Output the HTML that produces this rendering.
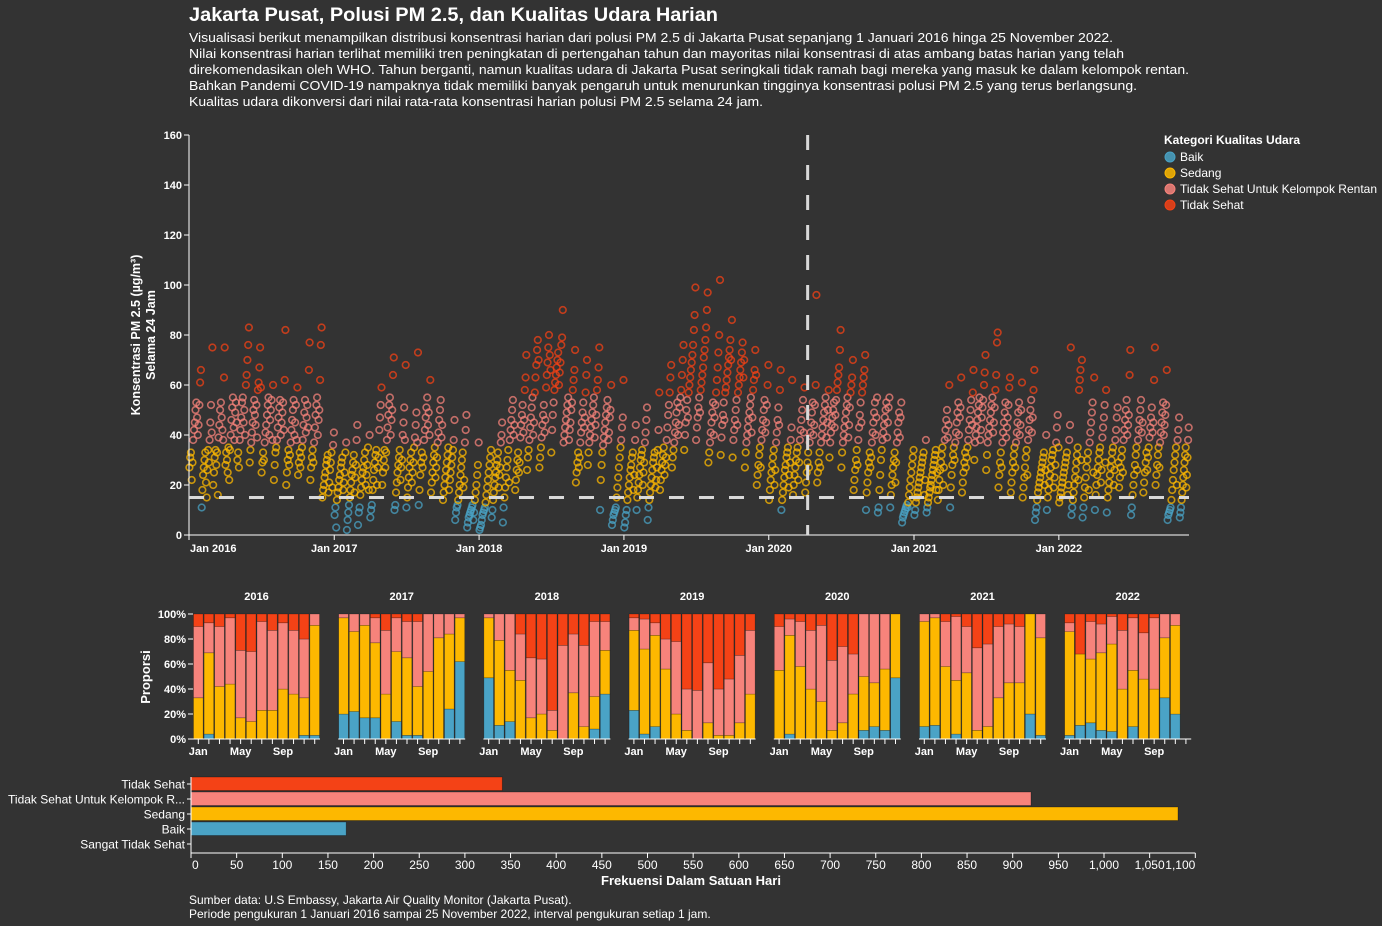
<!DOCTYPE html>
<html><head><meta charset="utf-8"><title>Jakarta Pusat PM 2.5</title>
<style>
html,body{margin:0;padding:0;background:#333333;}
svg{display:block;font-family:"Liberation Sans",Arial,sans-serif;}
.t{fill:#ffffff;}
.ax{stroke:#ffffff;stroke-width:1;}
</style></head>
<body>
<svg id="chart" width="1382" height="926" viewBox="0 0 1382 926">
<rect width="1382" height="926" fill="#333333"/>
<text class="t" x="189" y="21" font-size="19" font-weight="bold" textLength="529" lengthAdjust="spacingAndGlyphs">Jakarta Pusat, Polusi PM 2.5, dan Kualitas Udara Harian</text>
<g font-size="13" class="t">
<text class="t" x="189" y="42" textLength="924" lengthAdjust="spacingAndGlyphs">Visualisasi berikut menampilkan distribusi konsentrasi harian dari polusi PM 2.5 di Jakarta Pusat sepanjang 1 Januari 2016 hinga 25 November 2022.</text>
<text class="t" x="189" y="58" textLength="935" lengthAdjust="spacingAndGlyphs">Nilai konsentrasi harian terlihat memiliki tren peningkatan di pertengahan tahun dan mayoritas nilai konsentrasi di atas ambang batas harian yang telah</text>
<text class="t" x="189" y="74" textLength="1000" lengthAdjust="spacingAndGlyphs">direkomendasikan oleh WHO. Tahun berganti, namun kualitas udara di Jakarta Pusat seringkali tidak ramah bagi mereka yang masuk ke dalam kelompok rentan.</text>
<text class="t" x="189" y="90" textLength="948" lengthAdjust="spacingAndGlyphs">Bahkan Pandemi COVID-19 nampaknya tidak memiliki banyak pengaruh untuk menurunkan tingginya konsentrasi polusi PM 2.5 yang terus berlangsung.</text>
<text class="t" x="189" y="106" textLength="574" lengthAdjust="spacingAndGlyphs">Kualitas udara dikonversi dari nilai rata-rata konsentrasi harian polusi PM 2.5 selama 24 jam.</text>
</g>
<g id="scatter"></g>
<g id="legend"></g>
<g id="stacked"></g>
<g id="hist"></g>
<text class="t" x="189" y="904" font-size="12">Sumber data: U.S Embassy, Jakarta Air Quality Monitor (Jakarta Pusat).</text>
<text class="t" x="189" y="918" font-size="12">Periode pengukuran 1 Januari 2016 sampai 25 November 2022, interval pengukuran setiap 1 jam.</text>
</svg>
<script>
// ---------- DATA ----------
const categoryNames = ["Baik","Sedang","Tidak Sehat Untuk Kelompok Rentan","Tidak Sehat"];
const categoryColors = ["#4aa3c6","#fdb800","#f7837b","#f44216"];
const yTicks = [0,20,40,60,80,100,120,140,160];
const yearLabels = ["Jan 2016","Jan 2017","Jan 2018","Jan 2019","Jan 2020","Jan 2021","Jan 2022"];
const whoThreshold = 15;
const covidDate = "2020-04-08";
// daily PM2.5 samples per month (Jan 2016 .. Nov 2022)
const monthlySamples = [
"27,31,33,22,29,38,42,45,50,53,47,40,44,52,61,66","11,18,24,27,30,33,21,15,26,34,29,38,45,52,41,75","20,25,31,34,28,33,16,39,44,50,53,47,42,38,63,75","28,33,30,25,35,22,34,40,46,51,55,43,38,49,53,45","30,33,27,38,42,47,53,55,45,50,40,60,64,70,76,83","29,34,37,41,45,50,54,48,44,52,39,58,61,67,75,59","25,29,33,30,37,41,44,48,52,55,40,46,50,54,38,60","22,28,33,35,38,43,47,51,54,40,45,49,53,42,62,82","20,25,30,34,28,32,37,42,46,50,54,40,45,52,38,59","24,29,33,27,31,35,38,44,49,54,41,47,52,43,66,77","22,27,31,34,29,37,43,48,52,55,40,46,50,62,76,83","15,18,20,23,25,28,30,32,17,21,26,29,33,19,36,41",
"8,11,3,14,17,19,22,24,27,29,31,18,21,25,33,37","2,6,9,12,15,18,21,24,26,29,32,17,23,28,38,44","4,9,11,16,19,22,25,27,30,33,20,24,28,35,18,40","7,10,12,18,22,26,29,32,34,20,27,31,42,47,52,59","20,25,30,34,27,33,38,43,48,52,55,40,46,50,64,71","10,12,17,21,25,28,31,34,22,27,30,40,45,51,38,68","11,15,19,23,27,30,33,21,25,29,35,39,44,49,37,73","12,18,24,29,33,27,31,38,42,47,51,55,44,49,40,62","17,21,25,29,32,35,23,27,31,37,41,46,50,54,39,44","14,17,20,23,26,29,32,35,18,22,25,28,31,34,38,46","6,9,11,12,14,17,20,24,27,30,33,19,22,37,42,48","3,5,7,8,9,10,11,12,6,9,14,17,20,24,28,37",
"2,3,4,6,8,9,10,11,13,16,19,22,25,28,31,34","7,10,14,17,20,23,25,28,30,33,19,24,27,37,40,45","5,11,15,19,23,27,30,34,21,38,42,46,50,54,40,44","18,22,26,30,33,25,29,39,44,48,52,41,46,58,63,72","26,31,34,38,43,47,51,55,40,45,57,63,68,74,78,70","27,31,35,39,44,48,52,41,46,59,64,69,75,80,72,66","33,42,48,53,58,61,64,67,70,73,60,65,69,76,79,90","37,40,43,46,49,52,55,38,42,45,50,53,58,62,66,74","21,25,29,33,27,31,37,41,45,49,53,43,47,57,64,70","28,33,37,40,43,46,49,52,55,39,44,48,58,62,67,75","10,22,28,33,36,39,42,45,48,51,54,38,41,47,50,60","4,6,8,9,10,11,15,19,23,27,31,35,38,43,47,62",
"3,5,8,10,14,17,20,23,26,28,31,33,18,24,38,44","10,15,18,21,24,27,30,32,34,20,25,29,37,41,46,51","6,11,14,17,20,23,26,29,31,33,19,22,27,34,42,57","18,22,26,29,32,35,24,28,31,38,43,48,52,57,63,68","27,31,34,37,41,45,49,53,40,44,51,55,58,64,70,76","34,40,45,50,54,47,57,60,63,66,69,72,76,82,88,99","38,43,47,51,55,49,58,61,64,67,71,74,78,83,90,97","29,33,37,41,45,49,53,40,47,52,57,62,67,73,80,102","32,39,44,48,53,46,57,59,62,65,68,71,74,78,70,86","31,38,42,46,50,54,44,57,60,63,66,69,73,77,63,70","27,33,37,40,43,46,49,52,55,41,47,58,62,66,74,64","20,24,28,32,35,27,38,42,46,50,54,41,45,52,60,68",
"14,18,22,25,28,31,34,20,26,37,41,46,51,44,58,66","10,14,17,20,23,26,28,31,33,35,19,24,29,38,43,62","16,20,24,27,30,33,35,22,29,38,42,46,50,54,41,59","17,21,25,29,33,27,37,41,45,49,53,40,44,52,60,96","21,25,29,33,27,37,40,43,46,49,52,55,39,45,50,58","31,37,41,44,47,50,53,43,48,54,58,61,64,67,74,82","27,33,37,40,43,46,49,52,55,39,44,51,57,60,63,70","18,22,26,30,34,28,38,43,48,53,45,57,60,63,66,72","10,17,21,25,29,33,27,31,37,41,45,49,53,40,47,55","9,11,18,24,30,34,38,41,44,47,50,53,39,45,51,55","11,16,20,24,27,30,33,21,29,37,41,45,49,39,47,53","5,7,8,9,10,11,12,11,13,16,19,22,25,28,31,34",
"8,10,13,15,17,19,21,23,25,27,29,31,33,16,22,38","9,11,13,15,17,19,20,22,24,26,28,30,32,34,18,25","14,18,22,26,29,32,35,20,27,38,42,46,50,39,44,60","11,19,24,28,32,35,30,37,41,45,49,53,40,47,51,63","17,21,25,29,33,27,31,35,38,42,46,50,54,44,57,66","30,37,40,43,46,49,52,55,38,42,47,51,54,60,65,72","26,32,37,40,43,46,49,52,55,41,45,51,58,64,77,81","19,24,29,33,27,37,41,45,49,53,39,43,47,52,59,63","17,21,25,29,32,35,27,37,41,45,49,53,40,44,50,61","15,19,23,27,31,34,24,38,42,46,50,54,41,47,58,66","6,9,11,14,17,19,21,23,25,27,29,31,33,20,26,40","10,15,18,21,24,27,30,32,34,19,23,28,37,43,48,35",
"13,15,17,19,21,23,25,27,29,31,33,16,20,38,44,75","8,11,14,17,20,23,26,29,32,35,22,58,62,66,30,70","7,11,15,19,23,27,30,33,18,37,41,45,49,53,25,63","10,16,20,24,27,30,33,35,21,26,39,43,47,52,29,58","9,15,18,21,24,27,30,33,35,20,26,38,42,47,51,29","19,23,27,31,34,25,38,42,46,50,54,40,44,48,64,74","8,11,16,20,24,28,32,35,26,38,42,46,50,54,41,45","17,21,25,29,33,26,31,35,39,43,47,51,41,45,62,75","20,24,28,32,35,27,37,41,45,49,53,40,44,48,52,66","6,8,9,10,11,14,18,22,26,29,32,35,20,38,42,47","7,9,11,14,17,20,23,26,29,32,35,19,24,31,38,43"
];
// monthly category proportions (%), Jan 2016 .. Nov 2022
const baikPct   = [0,4,0,0,0,0,0,0,0,0,3,3, 20,22,17,17,0,14,3,3,0,0,24,62, 49,11,14,0,0,0,0,0,0,0,8,36, 23,4,10,0,0,0,0,0,0,0,0,0, 0,4,0,0,0,0,0,0,7,10,7,49, 10,11,0,4,0,0,0,0,0,0,20,3, 3,11,13,7,6,0,10,0,0,33,20];
const sedangPct = [33,65,42,44,17,14,23,23,40,36,30,88, 77,64,74,60,36,56,62,39,54,81,60,35, 48,68,41,47,17,20,7,0,37,10,26,35, 64,68,73,56,20,7,0,13,3,3,13,36, 55,79,58,40,30,7,13,36,43,35,49,51, 84,86,58,43,53,7,10,33,45,45,80,78, 83,57,51,62,70,40,45,48,40,48,71];
const tsukrPct  = [57,24,48,53,54,56,71,64,53,51,47,9, 3,14,9,20,51,27,29,52,46,19,16,3, 3,21,45,37,48,44,16,75,47,65,60,23, 10,24,10,24,58,33,39,48,37,45,54,51, 35,13,36,47,61,56,61,32,50,55,44,0, 6,3,36,51,37,66,66,57,47,45,0,19, 7,0,30,23,22,47,42,37,57,19,9];
const tsPct     = [10,7,10,3,29,30,6,13,7,13,20,0, 0,0,0,3,13,3,6,6,0,0,0,0, 0,0,0,16,35,36,77,25,16,25,6,6, 3,4,7,20,22,60,61,39,60,52,33,13, 10,4,6,13,9,37,26,32,0,0,0,0, 0,0,6,2,10,27,24,10,8,10,0,0, 7,32,6,8,2,13,3,15,3,0,0];
const panelYears = ["2016","2017","2018","2019","2020","2021","2022"];
const monthTickLabels = ["Jan","","","","May","","","","Sep","","",""];
const pctTicks = [0,20,40,60,80,100];
// histogram
const histCategories = ["Tidak Sehat","Tidak Sehat Untuk Kelompok R...","Sedang","Baik","Sangat Tidak Sehat"];
const histCounts = [341,920,1081,170,0];
const histColors = ["#f44216","#f7837b","#fdb800","#4aa3c6","#8b2a7a"];
const histTicks = [0,50,100,150,200,250,300,350,400,450,500,550,600,650,700,750,800,850,900,950,1000,1050,1100];

// ---------- HELPERS ----------
const NS="http://www.w3.org/2000/svg";
function mk(tag, parent, attrs){const e=document.createElementNS(NS,tag);for(const k in attrs)e.setAttribute(k,attrs[k]);parent.appendChild(e);return e;}
function txt(parent,x,y,s,attrs){const e=mk("text",parent,Object.assign({x:x,y:y,fill:"#fff"},attrs||{}));e.textContent=s;return e;}
function catIndex(v){return v<=12?0:v<=35.4?1:v<=55.4?2:3;}

// ---------- SCATTER ----------
const sc=document.getElementById("scatter");
const t0=Date.UTC(2016,0,1), t1=Date.UTC(2022,10,25);
const X0=189,X1=1189,Y0=535,Y1=135;
const xs=t=>X0+(t-t0)/(t1-t0)*(X1-X0);
const ys=v=>Y0-v/160*(Y0-Y1);
const pts=mk("g",sc,{});


monthlySamples.forEach((str,mi)=>{
  const yr=2016+Math.floor(mi/12), m=mi%12;
  const ms=Date.UTC(yr,m,1);
  let me=Date.UTC(yr,m+1,1);
  if(me>t1) me=t1;
  const vals=str.split(",").map(Number);
  vals.forEach((v,i)=>{
    const t=ms+(i+0.5)/vals.length*(me-ms);
    const c=mk("circle",pts,{cx:xs(t).toFixed(1),cy:ys(v).toFixed(1),r:3.3,fill:"none",stroke:categoryColors[catIndex(v)],"stroke-width":1.6,"stroke-opacity":0.75});
    
    
  });
});
const yax=mk("g",sc,{});


mk("line",yax,{x1:X0,y1:Y1,x2:X0,y2:Y0,class:"ax"});
yTicks.forEach(v=>{
  mk("line",yax,{x1:X0-5,y1:ys(v),x2:X0,y2:ys(v),class:"ax"});
  const l=txt(yax,X0-7,ys(v)+4,String(v),{"font-size":11,"font-weight":"bold","text-anchor":"end"});
  
  
});
const yt=mk("text",sc,{transform:"translate(140,335) rotate(-90)","text-anchor":"middle","font-size":12.5,"font-weight":"bold",fill:"#fff"});


yt.innerHTML='<tspan x="0" dy="0">Konsentrasi PM 2.5 (µg/m³)</tspan><tspan x="0" dy="15">Selama 24 Jam</tspan>';
const xax=mk("g",sc,{});


mk("line",xax,{x1:X0,y1:Y0,x2:X1,y2:Y0,class:"ax"});
yearLabels.forEach((s,i)=>{
  const x=xs(Date.UTC(2016+i,0,1));
  mk("line",xax,{x1:x,y1:Y0,x2:x,y2:Y0+5,class:"ax"});
  const l=txt(xax,i===0?x+1:x,Y0+17,s,{"font-size":11,"font-weight":"bold","text-anchor":i===0?"start":"middle"});
  
  
});
const who=mk("line",sc,{x1:X0,x2:X1,y1:ys(whoThreshold),y2:ys(whoThreshold),stroke:"#d9d9d9","stroke-width":3,"stroke-dasharray":"15,15"});


const cx=xs(Date.parse(covidDate));
const cov=mk("line",sc,{x1:cx,x2:cx,y1:Y1,y2:Y0,stroke:"#d9d9d9","stroke-width":3,"stroke-dasharray":"15,15"});



// ---------- LEGEND ----------
const lg=document.getElementById("legend");
const lt=txt(lg,1164,144,"Kategori Kualitas Udara",{"font-size":12,"font-weight":"bold"});


categoryNames.forEach((n,i)=>{
  const g=mk("g",lg,{});
  
  
  mk("circle",g,{cx:1170,cy:157+i*16,r:5,fill:categoryColors[i],"fill-opacity":0.85,stroke:categoryColors[i]});
  txt(g,1180,161+i*16,n,{"font-size":12});
});

// ---------- STACKED MONTHLY ----------
const st=document.getElementById("stacked");
const PT=614,PB=739,PW=127,BW=PW/12;
const py=p=>PB-p/100*(PB-PT);
const series=[baikPct,sedangPct,tsukrPct,tsPct];
panelYears.forEach((yr,pi)=>{
  const px=193+pi*145.2;
  const g=mk("g",st,{});
  
  
  const tt=txt(g,px+PW/2,600,yr,{"font-size":11,"font-weight":"bold","text-anchor":"middle"});
  
  
  for(let m=0;m<12;m++){
    const idx=pi*12+m;
    if(idx<baikPct.length){
      let acc=0;
      series.forEach((s,si)=>{
        const v=s[idx];
        if(v>0){
          const r=mk("rect",g,{x:(px+m*BW+0.5).toFixed(1),y:py(acc+v).toFixed(1),width:(BW-1).toFixed(1),height:(py(acc)-py(acc+v)).toFixed(1),fill:categoryColors[si],stroke:"rgba(0,0,0,0.35)","stroke-width":0.6});
          
          
        }
        acc+=v;
      });
    }
    const tx=px+m*BW+BW/2;
    mk("line",g,{x1:tx,x2:tx,y1:PB,y2:PB+5,class:"ax"});
    if(monthTickLabels[m]){
      const l=txt(g,tx,PB+16,monthTickLabels[m],{"font-size":11,"font-weight":"bold","text-anchor":"middle"});
      
      
    }
  }
  mk("line",g,{x1:px,x2:px+PW,y1:PB,y2:PB,class:"ax"});
  if(pi===0){
    pctTicks.forEach(p=>{
      mk("line",g,{x1:px-5,x2:px,y1:py(p),y2:py(p),class:"ax"});
      const l=txt(g,px-7,py(p)+4,p+"%",{"font-size":11,"font-weight":"bold","text-anchor":"end"});
      
      
    });
  }
});
const pt=mk("text",st,{transform:"translate(150,677) rotate(-90)","text-anchor":"middle","font-size":13,"font-weight":"bold",fill:"#fff"});
pt.textContent="Proporsi";



// ---------- HISTOGRAM ----------
const hs=document.getElementById("hist");
const HX0=191,HK=0.913,HY0=777,HR=15,HAX=853;
const hx=v=>HX0+v*HK;
histCategories.forEach((c,i)=>{
  const y=HY0+i*HR;
  if(histCounts[i]>0){
    const r=mk("rect",hs,{x:HX0,y:y,width:(hx(histCounts[i])-HX0).toFixed(1),height:HR-1.5,fill:histColors[i],stroke:"rgba(0,0,0,0.35)","stroke-width":0.8});
    
    
  }
  mk("line",hs,{x1:HX0-4,x2:HX0,y1:y+HR/2-0.5,y2:y+HR/2-0.5,class:"ax"});
  const l=txt(hs,HX0-6,y+HR/2+4,c,{"font-size":12,"text-anchor":"end"});
  
  
});
mk("line",hs,{x1:HX0,x2:HX0,y1:HY0,y2:HAX,class:"ax"});
mk("line",hs,{x1:HX0,x2:hx(1100),y1:HAX,y2:HAX,class:"ax"});
histTicks.forEach((v,i)=>{
  mk("line",hs,{x1:hx(v),x2:hx(v),y1:HAX,y2:HAX+5,class:"ax"});
  const s=v>=1000?v.toLocaleString("en-US"):String(v);
  const l=txt(hs,i===0?hx(v)+1:(i===histTicks.length-1?hx(v)-15:hx(v)),HAX+16,s,{"font-size":12,"text-anchor":i===0?"start":"middle"});
  
  
});
const ht=txt(hs,691,885,"Frekuensi Dalam Satuan Hari",{"font-size":13,"font-weight":"bold","text-anchor":"middle"});


</script>
</body></html>
